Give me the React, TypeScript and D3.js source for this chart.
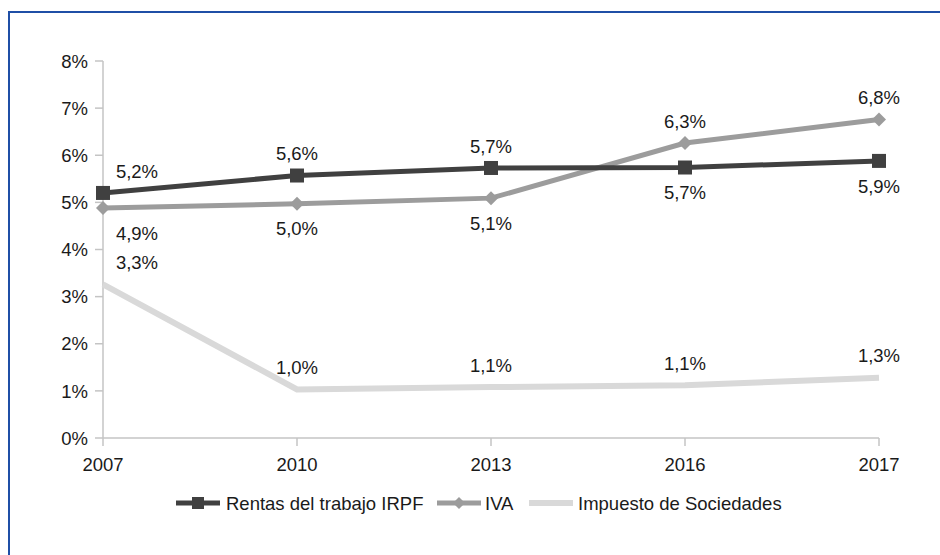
import React from "react";
import * as d3 from "d3";

const years = ["2007", "2010", "2013", "2016", "2017"];
const irpf = [5.2, 5.57, 5.73, 5.74, 5.88];
const iva = [4.88, 4.97, 5.09, 6.26, 6.76];
const sociedades = [3.26, 1.03, 1.08, 1.12, 1.28];
const yTicks = [0, 1, 2, 3, 4, 5, 6, 7, 8];
const seriesNames = ["Rentas del trabajo IRPF", "IVA", "Impuesto de Sociedades"];

const W = 940;
const H = 555;
const FONT = "'Liberation Sans', Arial, sans-serif";
const FS = 18.5;

type Series = {
  name: string;
  values: number[];
  color: string;
  width: number;
  marker: "square" | "diamond" | "none";
  placement: ("above" | "below")[];
};

const series: Series[] = [
  { name: seriesNames[0], values: irpf, color: "#404040", width: 5, marker: "square", placement: ["above", "above", "above", "below", "below"] },
  { name: seriesNames[1], values: iva, color: "#9c9c9c", width: 5, marker: "diamond", placement: ["below", "below", "below", "above", "above"] },
  { name: seriesNames[2], values: sociedades, color: "#d9d9d9", width: 6, marker: "none", placement: ["above", "above", "above", "above", "above"] },
];

const fmt = (v: number) => v.toFixed(1).replace(".", ",") + "%";

function Marker({ kind, x, y, color, size = 14 }: { kind: string; x: number; y: number; color: string; size?: number }) {
  const h = size / 2;
  if (kind === "square") return <rect x={x - h} y={y - h} width={size} height={size} fill={color} />;
  if (kind === "diamond")
    return <path d={`M${x},${y - h}L${x + h},${y}L${x},${y + h}L${x - h},${y}Z`} fill={color} />;
  return null;
}

export default function App() {
  const x = d3.scalePoint<string>().domain(years).range([103, 879]);
  const y = d3.scaleLinear().domain([0, 8]).range([438, 61]);
  const line = d3
    .line<number>()
    .x((_, i) => x(years[i]) as number)
    .y((d) => y(d));

  const axisColor = "#c4c4c4";
  const textColor = "#1a1a1a";
  const capShift = FS * 0.36;

  const legendY = 503;
  const legendItems = [
    { sx: 176, tx: 226 },
    { sx: 437, tx: 485 },
    { sx: 529, tx: 578 },
  ];

  return (
    <div style={{ position: "absolute", left: 0, top: 0, width: W, height: H, background: "#fff" }}>
      <svg width={W} height={H} style={{ display: "block", fontFamily: FONT }}>
        <rect x={0} y={0} width={W} height={H} fill="#fff" />
        <rect x={9} y={12} width={2000} height={2000} fill="none" stroke="#1f4fa6" strokeWidth={2} />

        <line x1={103} x2={103} y1={y(8)} y2={y(0)} stroke={axisColor} strokeWidth={1.5} />
        {yTicks.map((t) => (
          <g key={t}>
            <line x1={95} x2={103} y1={y(t)} y2={y(t)} stroke={axisColor} strokeWidth={1.5} />
            <text x={88} y={y(t) + capShift} textAnchor="end" fontSize={FS} fill={textColor}>
              {t}%
            </text>
          </g>
        ))}

        <line x1={103} x2={879} y1={y(0)} y2={y(0)} stroke={axisColor} strokeWidth={1.5} />
        {years.map((yr) => (
          <g key={yr}>
            <line x1={x(yr)} x2={x(yr)} y1={y(0)} y2={y(0) + 8} stroke={axisColor} strokeWidth={1.5} />
            <text x={x(yr)} y={471} textAnchor="middle" fontSize={FS} fill={textColor}>
              {yr}
            </text>
          </g>
        ))}

        {[...series].reverse().map((s) => (
          <g key={s.name}>
            <path d={line(s.values) || ""} fill="none" stroke={s.color} strokeWidth={s.width} strokeLinejoin="miter" />
            {s.values.map((v, i) => (
              <Marker key={i} kind={s.marker} x={x(years[i]) as number} y={y(v)} color={s.color} />
            ))}
          </g>
        ))}

        {series.map((s) =>
          s.values.map((v, i) => {
            const px = (x(years[i]) as number) + (i === 0 ? 34 : 0);
            const cy = y(v) + (s.placement[i] === "above" ? -22 : 25);
            return (
              <text key={s.name + i} x={px} y={cy + capShift} textAnchor="middle" fontSize={FS} fill={textColor}>
                {fmt(v)}
              </text>
            );
          })
        )}

        {series.map((s, i) => {
          const it = legendItems[i];
          return (
            <g key={"lg" + i}>
              <line x1={it.sx} x2={it.sx + 44} y1={legendY} y2={legendY} stroke={s.color} strokeWidth={s.width} />
              <Marker kind={s.marker} x={it.sx + 22} y={legendY} color={s.color} size={12} />
              <text x={it.tx} y={legendY + capShift} fontSize={FS} fill={textColor}>
                {s.name}
              </text>
            </g>
          );
        })}
      </svg>
    </div>
  );
}
